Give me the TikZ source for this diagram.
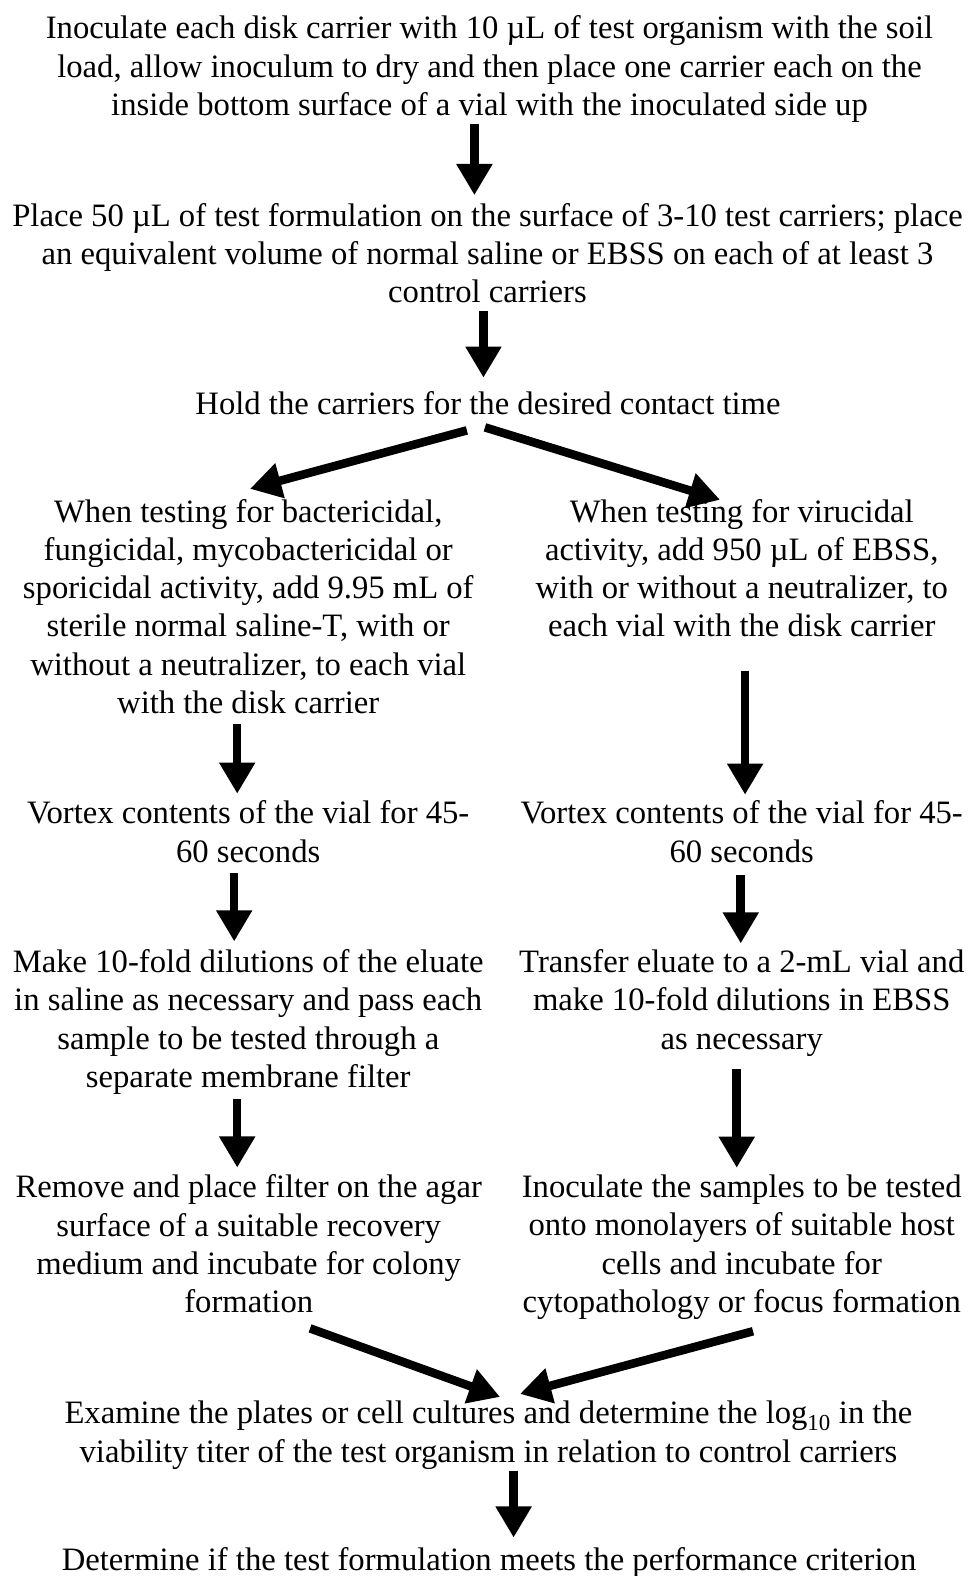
\documentclass[tikz,border=0pt]{standalone}
\usepackage{fontspec}
\setmainfont{Liberation Serif}
\usetikzlibrary{arrows.meta}
\begin{document}
\begin{tikzpicture}[x=1pt,y=-1pt,
  txt/.style={font=\fontsize{32.5}{38}\selectfont, align=center, inner sep=0pt,
    execute at begin node=\strut, execute at end node=\strut},
  arr/.style={line width=8.5pt, -{Triangle[width=34pt,length=31pt]}}]
\fill[white] (0,0) rectangle (964,1568);
\useasboundingbox (0,0) rectangle (964,1568);

\node[txt] (b1) at (487,71) {Inoculate each disk carrier with 10 µL of test organism with the soil\\load, allow inoculum to dry and then place one carrier each on the\\inside bottom surface of a vial with the inoculated side up};
\node[txt] (b2) at (485,257.5) {Place 50 µL of test formulation on the surface of 3-10 test carriers; place\\an equivalent volume of normal saline or EBSS on each of at least 3\\control carriers};
\node[txt] (b3) at (485.5,405) {Hold the carriers for the desired contact time};
\node[txt] (b4L) at (247,609) {When testing for bactericidal,\\fungicidal, mycobactericidal or\\sporicidal activity, add 9.95 mL of\\sterile normal saline-T, with or\\without a neutralizer, to each vial\\with the disk carrier};
\node[txt] (b4R) at (738,571) {When testing for virucidal\\activity, add 950 µL of EBSS,\\with or without a neutralizer, to\\each vial with the disk carrier};
\node[txt] (b5L) at (247,833) {Vortex contents of the vial for 45-\\60 seconds};
\node[txt] (b5R) at (738,833) {Vortex contents of the vial for 45-\\60 seconds};
\node[txt] (b6L) at (247,1019) {Make 10-fold dilutions of the eluate\\in saline as necessary and pass each\\sample to be tested through a\\separate membrane filter};
\node[txt] (b6R) at (738,1000) {Transfer eluate to a 2-mL vial and\\make 10-fold dilutions in EBSS\\as necessary};
\node[txt] (b7L) at (247.5,1243) {Remove and place filter on the agar\\surface of a suitable recovery\\medium and incubate for colony\\formation};
\node[txt] (b7R) at (738,1243) {Inoculate the samples to be tested\\onto monolayers of suitable host\\cells and incubate for\\cytopathology or focus formation};
\node[txt] (b8) at (486,1430) {Examine the plates or cell cultures and determine the log\textsubscript{10} in the\\viability titer of the test organism in relation to control carriers};
\node[txt] (b9) at (486.5,1555) {Determine if the test formulation meets the performance criterion};

\draw[arr] ([xshift=-15pt,yshift=3pt]b1.south) -- ([xshift=-13pt,yshift=8pt]b2.north);
\draw[arr] ([xshift=-4pt,yshift=3pt]b2.south) -- ([xshift=-4.5pt,yshift=10pt]b3.north);
\draw[arr] ([xshift=-21pt,yshift=-4pt]b3.south) -- ([xshift=1.7pt,yshift=10.3pt]b4L.north);
\draw[arr] ([xshift=-3pt,yshift=-1pt]b3.south) -- ([xshift=-21.6pt,yshift=-0.6pt]b4R.north);
\draw[arr] ([xshift=-11pt,yshift=1pt]b4L.south) -- ([xshift=-11pt,yshift=7pt]b5L.north);
\draw[arr] ([xshift=3.3pt,yshift=-21.8pt]b4R.south) -- ([xshift=3.3pt,yshift=6pt]b5R.north);
\draw[arr] ([xshift=-14pt,yshift=1pt]b5L.south) -- ([xshift=-14pt,yshift=8pt]b6L.north);
\draw[arr] ([xshift=-1pt,yshift=-1pt]b5R.south) -- ([xshift=-1pt,yshift=6pt]b6R.north);
\draw[arr] ([xshift=-11pt,yshift=0pt]b6L.south) -- ([xshift=-11.5pt,yshift=7pt]b7L.north);
\draw[arr] ([xshift=-5pt,yshift=-8pt]b6R.south) -- ([xshift=-5pt,yshift=7pt]b7R.north);
\draw[arr] ([xshift=61pt,yshift=-4.3pt]b7L.south) -- ([xshift=11.5pt,yshift=4pt]b8.north);
\draw[arr] ([xshift=11.2pt,yshift=-7.3pt]b7R.south) -- ([xshift=31.4pt,yshift=7pt]b8.north);
\draw[arr] ([xshift=25pt,yshift=3pt]b8.south) -- ([xshift=24.5pt,yshift=6pt]b9.north);
\end{tikzpicture}
\end{document}
